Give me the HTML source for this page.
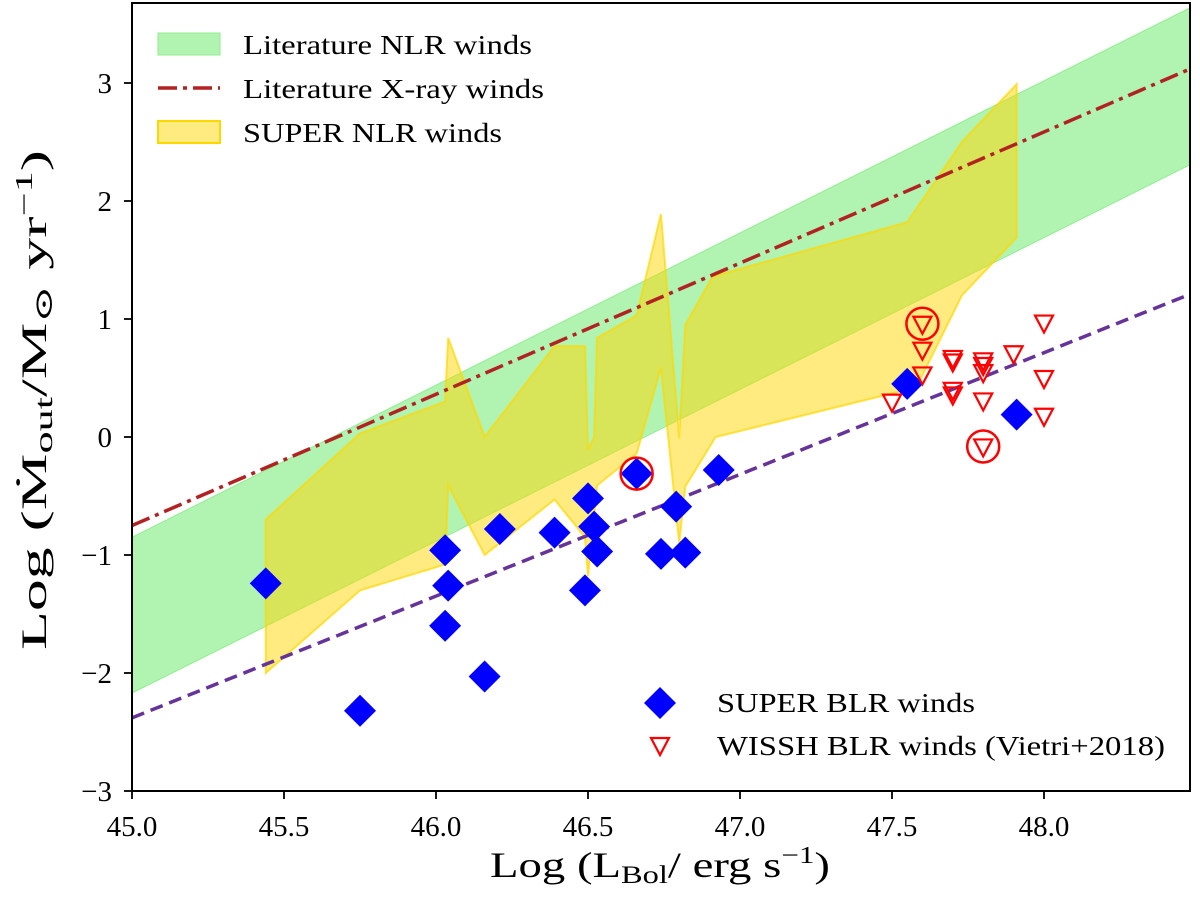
<!DOCTYPE html>
<html><head><meta charset="utf-8"><style>
html,body{margin:0;padding:0;background:#fff;}
svg{display:block;font-family:"Liberation Serif","DejaVu Serif",serif;}
</style></head><body>
<svg id="chart" width="1200" height="901" viewBox="0 0 1200 901">
<defs><clipPath id="plotclip"><rect x="132" y="3" width="1058" height="788"/></clipPath></defs>
<g id="plot" clip-path="url(#plotclip)"></g>
<g id="axes"></g>
</svg>
<script>
const xTicks=[45.0,45.5,46.0,46.5,47.0,47.5,48.0];
const xTickLabels=["45.0","45.5","46.0","46.5","47.0","47.5","48.0"];
const yTicks=[-3,-2,-1,0,1,2,3];
const yTickLabels=["\u22123","\u22122","\u22121","0","1","2","3"];
const superBlrX=[45.44,45.75,46.03,46.04,46.03,46.16,46.21,46.39,46.50,46.52,46.53,46.49,46.66,46.79,46.74,46.82,46.93,47.55,47.91];
const superBlrY=[-1.24,-2.32,-0.96,-1.26,-1.60,-2.03,-0.78,-0.81,-0.52,-0.76,-0.97,-1.30,-0.31,-0.59,-0.99,-0.98,-0.28,0.45,0.19];
const wisshX=[47.6,47.6,47.6,47.5,47.7,47.7,47.7,47.7,47.8,47.8,47.8,47.8,47.8,47.9,48.0,48.0,48.0];
const wisshY=[0.96,0.74,0.53,0.30,0.67,0.64,0.40,0.36,0.65,0.61,0.55,0.31,-0.08,0.71,0.97,0.50,0.18];
const circledX=[47.6,47.8,46.66];
const circledY=[0.96,-0.08,-0.31];
const nlrUpperX=[45.44,45.75,46.03,46.04,46.16,46.39,46.49,46.50,46.52,46.53,46.66,46.74,46.80,46.82,46.91,47.55,47.73,47.91,47.91];
const nlrUpperY=[-0.70,0.03,0.30,0.84,0.0,0.77,0.77,-0.11,0.0,0.84,1.03,1.89,-0.01,0.95,1.36,1.82,2.50,2.99,1.69];
const nlrLowerX=[47.73,47.58,46.92,46.82,46.80,46.74,46.66,46.53,46.50,46.49,46.39,46.16,46.04,46.03,45.75,45.44];
const nlrLowerY=[1.20,0.42,0.0,-0.42,-0.90,0.59,-0.14,-0.41,-1.18,-0.85,-0.53,-1.00,-0.41,-1.08,-1.30,-2.00];
const litNlrX=[45.0,48.49];
const litNlrTop=[-0.85,3.65];
const litNlrBottom=[-2.17,2.32];
const xrayX=[45.0,48.49];
const xrayY=[-0.75,3.13];
const blrFitX=[45.0,48.49];
const blrFitY=[-2.38,1.22];

const NS="http://www.w3.org/2000/svg";
const sx=v=>132+(v-45)*304;
const sy=v=>437-v*118;
function mk(tag,attrs,parent){const e=document.createElementNS(NS,tag);for(const k in attrs)e.setAttribute(k,attrs[k]);parent.appendChild(e);return e;}
const plot=document.getElementById('plot');
const axes=document.getElementById('axes');

// green band
let pts=litNlrX.map((x,i)=>sx(x)+','+sy(litNlrTop[i]));
for(let i=litNlrX.length-1;i>=0;i--)pts.push(sx(litNlrX[i])+','+sy(litNlrBottom[i]));
let band=mk('polygon',{points:pts.join(' '),fill:'#90ee90','fill-opacity':'0.7',stroke:'#90ee90','stroke-width':'1'},plot);



// yellow polygon
pts=nlrUpperX.map((x,i)=>sx(x)+','+sy(nlrUpperY[i]));
nlrLowerX.forEach((x,i)=>pts.push(sx(x)+','+sy(nlrLowerY[i])));
let yel=mk('polygon',{points:pts.join(' '),fill:'#ffd700','fill-opacity':'0.5',stroke:'#ffd700','stroke-opacity':'0.7','stroke-width':'2','stroke-linejoin':'miter'},plot);



// x-ray line
let xl=mk('line',{x1:sx(xrayX[0]),y1:sy(xrayY[0]),x2:sx(xrayX[1]),y2:sy(xrayY[1]),stroke:'#b22222','stroke-width':'3.5','stroke-dasharray':'19,6,4,6'},plot);



// blr fit line
let bl=mk('line',{x1:sx(blrFitX[0]),y1:sy(blrFitY[0]),x2:sx(blrFitX[1]),y2:sy(blrFitY[1]),stroke:'#663399','stroke-width':'3.5','stroke-dasharray':'13,7'},plot);



// diamonds
superBlrX.forEach((x,i)=>{const cx=sx(x),cy=sy(superBlrY[i]),r=16;
 const d=mk('polygon',{points:`${cx},${cy-r} ${cx+r},${cy} ${cx},${cy+r} ${cx-r},${cy}`,fill:'#0000ff'},plot);
 
 });
// triangles
wisshX.forEach((x,i)=>{const cx=sx(x),cy=sy(wisshY[i]);
 const t=mk('polygon',{points:`${cx-9},${cy-7} ${cx+9},${cy-7} ${cx},${cy+10}`,fill:'none',stroke:'#ff0000','stroke-width':'2.2'},plot);
 
 });
// circles
circledX.forEach((x,i)=>{const c=mk('circle',{cx:sx(x),cy:sy(circledY[i]),r:16,fill:'none',stroke:'#ff0000','stroke-width':'2.5'},plot);
 
 });

// spines
let fr=mk('rect',{x:132,y:3,width:1058,height:788,fill:'none',stroke:'#000','stroke-width':'2'},axes);


xTicks.forEach((v,i)=>{const x=sx(v);
 mk('line',{x1:x,y1:791,x2:x,y2:799,stroke:'#000','stroke-width':'1.8'},axes);
 const t=mk('text',{x:x,y:836,'font-size':'29','text-anchor':'middle',fill:'#000'},axes);t.textContent=xTickLabels[i];
 
 });
yTicks.forEach((v,i)=>{const y=sy(v);
 mk('line',{x1:124,y1:y,x2:132,y2:y,stroke:'#000','stroke-width':'1.8'},axes);
 const t=mk('text',{x:112,y:y+10,'font-size':'29','text-anchor':'end',fill:'#000'},axes);t.textContent=yTickLabels[i];
 
 });
</script>
<svg width="0" height="0" style="position:absolute"></svg>
<div style="position:absolute;left:0;top:0;width:1200px;height:901px;pointer-events:none">
<svg width="1200" height="901" style="position:absolute;left:0;top:0">
<g>
<text x="660" y="877" font-size="36" text-anchor="middle" textLength="340" lengthAdjust="spacingAndGlyphs">Log (L<tspan font-size="25" dy="6">Bol</tspan><tspan dy="-6">/ erg s</tspan><tspan font-size="24" dy="-14">−1</tspan><tspan dy="14">)</tspan></text>
</g>
<g transform="translate(46,400) rotate(-90)">
<text x="0" y="0" font-size="36" text-anchor="middle" textLength="500" lengthAdjust="spacingAndGlyphs">Log (Ṁ<tspan font-size="25" dy="6">out</tspan><tspan dy="-6">/M</tspan><tspan font-size="25" dy="6">⊙</tspan><tspan dy="-6"> yr</tspan><tspan font-size="24" dy="-14">−1</tspan><tspan dy="14">)</tspan></text>
</g>
<g>
<rect x="158" y="33" width="62" height="22" fill="#90ee90" fill-opacity="0.7" stroke="#90ee90"/>
<text x="243" y="54" font-size="27" textLength="289" lengthAdjust="spacingAndGlyphs">Literature NLR winds</text>
<line x1="158" y1="88" x2="220" y2="88" stroke="#b22222" stroke-width="3.5" stroke-dasharray="19,6,4,6"/>
<text x="243" y="98" font-size="27" textLength="301" lengthAdjust="spacingAndGlyphs">Literature X-ray winds</text>
<rect x="158" y="121" width="62" height="22" fill="#ffd700" fill-opacity="0.5" stroke="#ffd700" stroke-width="2"/>
<text x="243" y="142" font-size="27" textLength="259" lengthAdjust="spacingAndGlyphs">SUPER NLR winds</text>
</g>
<g>
<polygon points="660,687 676,703 660,719 644,703" fill="#0000ff"/>
<text x="717" y="712" font-size="27" textLength="258" lengthAdjust="spacingAndGlyphs">SUPER BLR winds</text>
<polygon points="651,738 669,738 660,755" fill="none" stroke="#ff0000" stroke-width="2.2"/>
<text x="717" y="755" font-size="27" textLength="448" lengthAdjust="spacingAndGlyphs">WISSH BLR winds (Vietri+2018)</text>
</g>
</svg></div>
</body></html>
